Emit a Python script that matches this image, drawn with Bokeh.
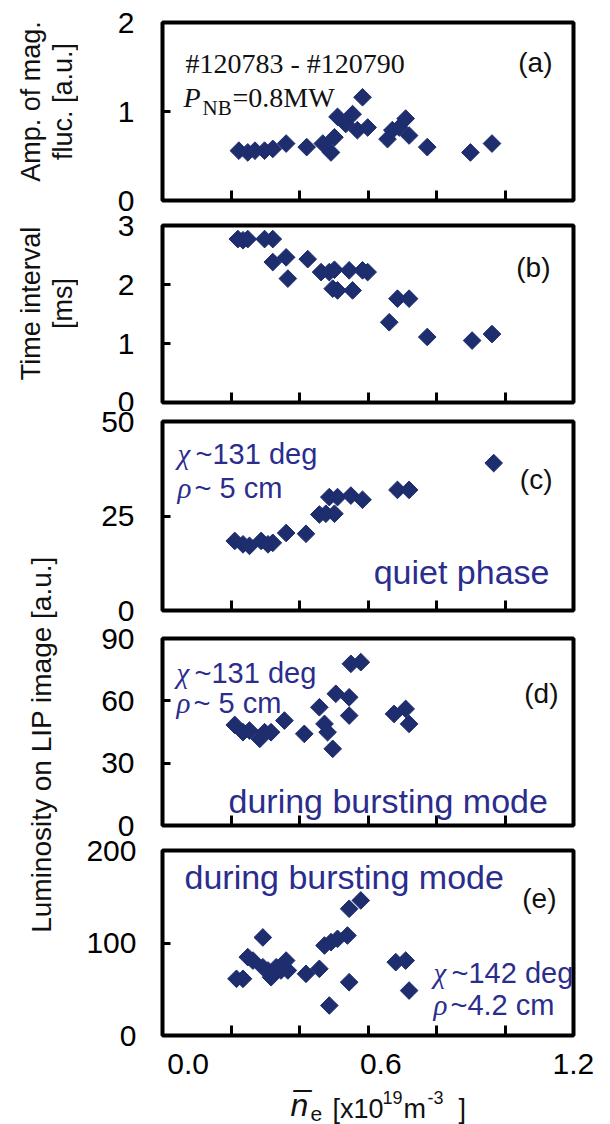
import math
from bokeh.plotting import figure
from bokeh.models import Range1d, LinearAxis, FixedTicker, Label
from bokeh.layouts import column, row
from bokeh.embed import file_html
from bokeh.resources import INLINE

# ---------------- data ----------------
a_x = [0.223, 0.249, 0.270, 0.298, 0.322, 0.361, 0.421, 0.468, 0.492, 0.502, 0.511, 0.535,
       0.555, 0.569, 0.584, 0.599, 0.657, 0.671, 0.691, 0.710, 0.720, 0.773, 0.899, 0.962]
a_y = [0.56, 0.54, 0.56, 0.56, 0.58, 0.64, 0.60, 0.64, 0.54, 0.71, 0.94, 0.86,
       0.97, 0.79, 1.16, 0.82, 0.69, 0.79, 0.82, 0.92, 0.73, 0.60, 0.54, 0.64]

b_x = [0.220, 0.235, 0.249, 0.298, 0.322, 0.322, 0.361, 0.366, 0.424, 0.463, 0.487, 0.502,
       0.497, 0.511, 0.545, 0.555, 0.584, 0.599, 0.662, 0.686, 0.720, 0.773, 0.904, 0.962]
b_y = [2.77, 2.75, 2.77, 2.77, 2.77, 2.38, 2.46, 2.10, 2.43, 2.21, 2.21, 2.25,
       1.93, 1.90, 2.24, 1.90, 2.24, 2.21, 1.36, 1.76, 1.76, 1.11, 1.05, 1.16]

c_x = [0.211, 0.235, 0.254, 0.288, 0.308, 0.322, 0.361, 0.419, 0.458, 0.477, 0.502, 0.487,
       0.511, 0.550, 0.584, 0.686, 0.720, 0.967]
c_y = [18.4, 17.5, 17.1, 18.4, 17.5, 17.9, 20.5, 20.3, 25.4, 25.6, 25.6, 30.0,
       30.0, 30.4, 29.3, 31.9, 31.9, 39.0]

d_x = [0.211, 0.235, 0.254, 0.284, 0.298, 0.317, 0.356, 0.414, 0.458, 0.473, 0.482, 0.497,
       0.506, 0.545, 0.545, 0.550, 0.579, 0.676, 0.710, 0.720]
d_y = [48.4, 44.9, 45.7, 41.7, 44.9, 44.9, 50.5, 44.1, 56.9, 48.9, 44.9, 36.9,
       63.4, 61.7, 52.9, 77.8, 78.6, 53.7, 56.1, 48.9]

e_x = [0.216, 0.235, 0.249, 0.264, 0.293, 0.293, 0.308, 0.317, 0.332, 0.346, 0.361, 0.366,
       0.419, 0.458, 0.473, 0.487, 0.492, 0.511, 0.540, 0.545, 0.545, 0.579, 0.681, 0.710, 0.720]
e_y = [61.3, 61.3, 84.7, 81.0, 106.0, 73.8, 70.3, 63.0, 73.8, 70.3, 81.0, 70.3,
       66.7, 72.1, 97.3, 32.4, 100.9, 104.5, 108.1, 57.6, 137.0, 146.0, 79.3, 81.0, 48.6]

x_minor_ticks = [0.2, 0.4, 0.6, 0.8, 1.0]
x_tick_labels = [0.0, 0.6, 1.2]
a_yticks = [0, 1, 2]
b_yticks = [0, 1, 2, 3]
c_yticks = [0, 25, 50]
d_yticks = [0, 30, 60, 90]
e_yticks = [0, 100, 200]

MK = "#1e2d6e"
TC = "#2b2d8e"
BK = "#111111"
SANS = "Liberation Sans"
SERIF = "Liberation Serif"
STRIP_W = 78


def lab(p, x, y, text, size, color, font=SANS, style="normal", align="left",
        baseline="alphabetic", angle=0.0):
    p.add_layout(Label(x=x, y=y, x_units="screen", y_units="screen", text=text,
                       text_font_size=f"{size}px", text_color=color, text_font=font,
                       text_font_style=style, text_align=align, text_baseline=baseline,
                       angle=angle))


def blank(width, height):
    s = figure(width=width, height=height, x_range=Range1d(0, 1), y_range=Range1d(0, 1),
               output_backend="svg", toolbar_location=None,
               x_axis_location=None, y_axis_location=None,
               min_border_left=0, min_border_right=0, min_border_top=0, min_border_bottom=0)
    s.grid.visible = False
    s.outline_line_color = None
    s.background_fill_color = "white"
    s.border_fill_color = "white"
    return s


def panel(height, left, right, top, bottom, ymax, yticks, xs, ys, standoff=28):
    p = figure(width=610 - STRIP_W, height=height, x_range=Range1d(0, 1.2),
               y_range=Range1d(0, ymax),
               output_backend="svg", toolbar_location=None,
               x_axis_location=None, y_axis_location=None,
               min_border_left=left - STRIP_W, min_border_right=right,
               min_border_top=top, min_border_bottom=bottom)
    p.grid.visible = False
    p.outline_line_color = "black"
    p.outline_line_width = 4
    p.background_fill_color = "white"
    p.border_fill_color = "white"
    xa = LinearAxis(ticker=FixedTicker(ticks=x_minor_ticks), major_tick_in=10, major_tick_out=0,
                    major_tick_line_width=3, major_tick_line_color="black",
                    axis_line_color=None, minor_tick_line_color=None,
                    major_label_text_font_size="1px", major_label_text_color=None,
                    major_label_standoff=0)
    p.add_layout(xa, "below")
    ya = LinearAxis(ticker=FixedTicker(ticks=yticks), major_tick_in=8, major_tick_out=0,
                    major_tick_line_width=3, major_tick_line_color="black",
                    axis_line_color=None, minor_tick_line_color=None,
                    major_label_text_font_size="30px", major_label_text_font=SANS,
                    major_label_text_color="black", major_label_standoff=standoff)
    p.add_layout(ya, "left")
    p.scatter(xs, ys, marker="square", size=12.5, angle=math.pi / 4,
              fill_color=MK, line_color=MK)
    return p


def chi_rho(p, x, y1, y2, t1, t2, size=29):
    lab(p, x, y1, "\u03c7", size, TC, font=SERIF, style="italic")
    lab(p, x + 18, y1, t1, size, TC)
    lab(p, x, y2, "\u03c1", size, TC, font=SERIF, style="italic")
    lab(p, x + 17, y2, t2, size, TC)


# (a)  frame: left 162, right 573, top 22, bottom 200
pa = panel(212, 162, 37, 22, 12, 2, a_yticks, a_x, a_y)
lab(pa, 23, 137, "#120783 - #120790", 28, BK, font=SERIF)
lab(pa, 21, 103, "P", 28, BK, font=SERIF, style="italic")
lab(pa, 40, 93, "NB", 21, BK, font=SERIF)
lab(pa, 70, 103, "=0.8MW", 28, BK, font=SERIF)
lab(pa, 390, 138, "(a)", 28, BK, align="right")

# (b)  frame: 225..402
pb = panel(199, 162, 35, 13, 9, 3, b_yticks, b_x, b_y)
lab(pb, 388, 135, "(b)", 28, BK, align="right")

# (c)  frame: 421..610
pc = panel(213, 160, 35, 10, 14, 50, c_yticks, c_x, c_y)
chi_rho(pc, 15, 157, 123, "~131 deg", "~ 5 cm")
lab(pc, 390, 131, "(c)", 28, BK, align="right")
lab(pc, 387, 39, "quiet phase", 34, TC, align="right")

# (d)  frame: 638..825
pd_ = panel(214, 156, 35, 14, 13, 90, d_yticks, d_x, d_y)
chi_rho(pd_, 14, 153, 123, "~131 deg", "~ 5 cm")
lab(pd_, 396, 132, "(d)", 28, BK, align="right")
lab(pd_, 66, 25, "during bursting mode", 34, TC)

# (e)  frame: 850..1035
pe = panel(242, 156, 37, 12, 45, 200, e_yticks, e_x, e_y, standoff=26)
pe.extra_x_ranges = {"lab": Range1d(-0.0798, 1.2005)}
xl = LinearAxis(x_range_name="lab", ticker=FixedTicker(ticks=x_tick_labels),
                major_tick_in=0, major_tick_out=0, axis_line_color=None,
                minor_tick_line_color=None, major_label_text_font_size="30px",
                major_label_text_font=SANS, major_label_text_color="black",
                major_label_standoff=18)
xl.major_label_overrides = {0.0: "0.0", 0.6: "0.6", 1.2: "1.2"}
pe.add_layout(xl, "below")
lab(pe, 22, 159, "during bursting mode", 34, TC)
lab(pe, 394, 137, "(e)", 28, BK, align="right")
chi_rho(pe, 271, 63, 31, "~142 deg", "~4.2 cm")

# left strip with the y-axis titles
ls = blank(STRIP_W, 1080)
R90 = math.pi / 2
lab(ls, 30, 979, "Amp. of mag.", 27, BK, align="center", baseline="middle", angle=R90)
lab(ls, 62, 979, "fluc. [a.u.]", 27, BK, align="center", baseline="middle", angle=R90)
lab(ls, 30, 777, "Time interval", 27, BK, align="center", baseline="middle", angle=R90)
lab(ls, 62, 777, "[ms]", 27, BK, align="center", baseline="middle", angle=R90)
lab(ls, 41, 336, "Luminosity on LIP image [a.u.]", 28, BK, align="center",
    baseline="middle", angle=R90)

# bottom strip with the x-axis title
bs = blank(610, 44)
lab(bs, 290, 20, "n\u0305", 32, BK, style="italic")
lab(bs, 310, 11, "e", 21, BK)
lab(bs, 332, 16, "[x10", 27, BK)
lab(bs, 382, 27, "19", 18, BK)
lab(bs, 403, 16, "m", 27, BK)
lab(bs, 427, 27, "-3", 18, BK)
lab(bs, 458, 16, "]", 27, BK)

layout = column(row(ls, column(pa, pb, pc, pd_, pe)), bs)

open("out.html", "w").write(file_html(layout, INLINE))
